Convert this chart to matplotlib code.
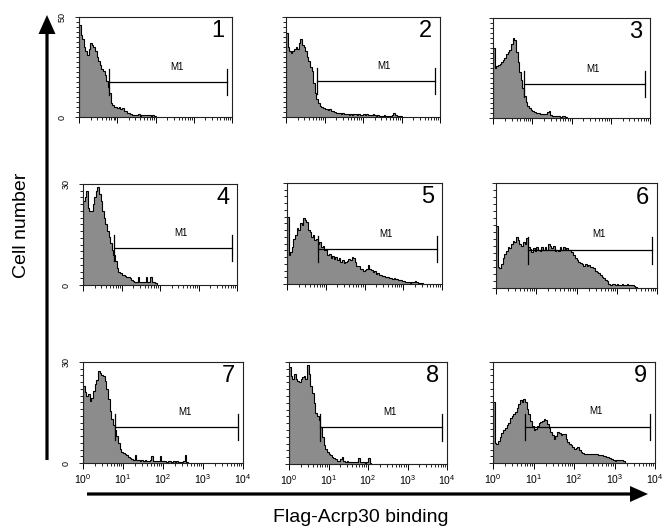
import numpy as np
import matplotlib
matplotlib.use('Agg')
from matplotlib import pyplot as plt
from matplotlib.ticker import LogLocator, MultipleLocator, NullFormatter, FixedLocator
from matplotlib.patches import FancyArrow

plt.rcParams['font.family'] = ['Liberation Sans', 'DejaVu Sans']
plt.rcParams['mathtext.fontset'] = 'custom'
plt.rcParams['mathtext.rm'] = 'Liberation Sans'

# histogram counts, 24 channels per decade starting at 10^0
bins_per_decade = 24
p1 = [46, 41, 39, 35, 33, 31, 34, 37, 36, 35, 33, 30, 28, 26, 24, 23, 21, 18, 15, 12,
      7, 6, 5, 5, 4.5, 5, 4, 4.5, 3, 3, 2, 2, 1.5, 1, 1.2, 0.8, 1, 1.3, 0.7, 1,
      1.2, 1, 0.8, 1.2, 1, 0.6, 1, 0.5]
p2 = [42, 35, 33, 32, 33, 34, 35, 34, 37, 39, 36, 35, 33, 30, 28, 25, 23, 17, 12, 9,
      7, 5.5, 5, 4.5, 4, 4.2, 3.5, 3.8, 3.2, 3, 2.6, 2.2, 2, 2.2, 1.7, 1.8, 1.5, 1.3,
      1.6, 1.2, 1.4, 1, 1.5, 1.3, 1.1, 1.4, 1, 1.2, 1.5, 1, 1.3, 0.9, 1.2, 1, 1.3,
      0.8, 0.6, 0.8, 0.5, 0.7, 0.6, 0.8, 0.5, 0.6, 0.7, 0.5, 1.0, 2.0, 1.0, 0.5, 0.4, 0.3]
p3 = [35, 25, 26, 26.5, 27, 28, 29, 30, 32, 33, 34, 37, 40, 39, 33, 28, 23, 19, 15, 11,
      8, 6, 5, 4, 3.3, 3, 2.7, 2.5, 2.3, 2.2, 2, 2, 2.2, 2.8, 3.3, 1.5, 1, 1.2, 0.8, 1,
      1.2, 0.7, 1, 0.8, 0.5]
p4 = [25, 26, 28, 23, 22, 22, 24, 26, 28, 29, 27, 25, 22, 20, 18, 16, 14.4, 12.5, 10.5, 9,
      7, 5, 4, 3.5, 3, 3, 2.8, 2.5, 2.5, 2, 1.5, 1.2, 1, 1, 2.5, 1, 1, 0.8, 1, 2.5,
      1, 0.8, 2.5, 1, 0.8, 0.5]
p5 = [20, 8.5, 9.5, 11, 13.5, 14.5, 16.5, 16, 18, 17.5, 19.5, 19, 18.5, 16, 15.5, 14, 14.5, 13, 13.5, 12,
      12.5, 11, 11.2, 10, 10.5, 8.5, 8.8, 7.8, 8.2, 7.5, 8, 7, 7.6, 6.6, 7, 6.2, 6.6, 6.8, 7.5, 7,
      8, 7.6, 6.5, 5.2, 5.3, 4.4, 4.6, 4, 4.2, 4.5, 5.5, 4.6, 4.2, 3.6, 3.8, 3, 3.3, 2.7, 2.6, 2.3,
      2.5, 2.1, 2.2, 1.8, 1.9, 1.6, 1.7, 1.4, 1.5, 1.2, 1.1, 1, 0.9, 0.7, 0.6, 0.5, 0.4, 0.6, 0.7, 0.8,
      0.5, 0.3, 0.3, 0.2]
p6 = [17.7, 6, 5.7, 7, 8.5, 9.8, 10.5, 11.8, 11.5, 12.7, 13.5, 13.2, 14.5, 13.8, 12.6, 12, 13.2, 12.5, 14.3, 11.6,
      11.2, 10.3, 11.4, 10.6, 11.8, 11, 10.5, 11.6, 10.8, 11.8, 11, 12.5, 12, 11.3, 12, 10.7, 11, 10.5, 11.6, 11,
      11.8, 11.2, 11.5, 10.8, 11, 10.4, 9.4, 8.6, 8, 7.4, 7.1, 6.8, 6.4, 6.8, 6.3, 6.6, 6.1, 5.9, 5.6, 5,
      4.7, 4.2, 3.8, 3.2, 2.8, 2.3, 1.9, 1.2, 0.9, 1.1, 1.2, 1, 1.1, 0.8, 1, 1.2, 0.9, 1, 1.1, 0.8,
      1, 0.9, 0.6, 0.4]
p7 = [22.8, 21, 19.8, 20.5, 18.3, 19.3, 21.5, 23.5, 24.8, 27.3, 26.6, 26, 25.7, 24.5, 22, 19, 15.5, 13, 11.2, 9.7,
      8, 6, 4.3, 3.2, 2.9, 2.6, 2.3, 1.8, 1.4, 1.1, 1, 2.5, 1, 0.8, 0.7, 0.9, 0.6, 0.8, 0.7, 0.6,
      0.8, 2, 0.7, 0.5, 0.7, 0.6, 2, 0.7, 0.5, 0.6, 0.4, 0.5, 0.6, 0.4, 0.5, 0.4, 0.5, 0.4, 0.3, 0.4,
      0.5, 2.3, 0.4]
p8 = [28.4, 26, 25, 26.5, 25, 24.5, 24, 25, 25.5, 26, 25, 29, 26.5, 23, 21, 18, 15, 14, 13, 10.8,
      8, 5.5, 4.5, 3.5, 3, 2.6, 2.2, 1.8, 1.4, 1, 1, 1.5, 2, 1, 0.7, 0.8, 0.6, 0.7, 0.5, 0.6,
      0.7, 0.5, 1.8, 0.6, 0.5, 0.6, 0.4, 0.5, 1.8, 0.4]
p9 = [18, 6, 5.5, 6.5, 7.8, 8.9, 9.8, 10.5, 11.3, 12, 13.5, 14.1, 14.5, 15.2, 16.2, 17.5, 18.7, 18.2, 19, 18,
      16, 14.5, 12.5, 11, 9.8, 10.2, 11, 11.8, 12.2, 12.5, 13.2, 12.8, 11.7, 10.3, 9.2, 8.2, 7.2, 8, 9.2, 8.8,
      8.2, 8.5, 8.7, 7.2, 6.2, 5.7, 5.2, 4.7, 4.2, 4.4, 4.7, 4, 3.2, 3, 2.8, 2.7, 2.8, 2.6, 2.7, 2.8,
      2.6, 2.7, 2.4, 2.3, 2.3, 2.2, 2, 1.8, 1.7, 1.4, 1.2, 0.9, 0.7, 0.8, 1, 1, 0.8, 0.5]
hists = [p1, p2, p3, p4, p5, p6, p7, p8, p9]
labels = ['1', '2', '3', '4', '5', '6', '7', '8', '9']
ymax = [50, 50, 50, 30, 30, 30, 30, 30, 30]

# M1 marker: start, end (fluorescence), level (cells)
m1_start = 6.2
m1_end = 7600
m1_level = [17.5, 17.8, 17.2, 10.9, 10.4, 10.8, 10.7, 10.8, 10.8]

# panel boxes in pixels: left, top, right, bottom
W, H = 663, 529
boxes = [(79, 17, 232, 117), (286, 17, 440, 117), (493, 18, 650, 118),
         (83, 184, 237, 285), (287, 183, 442, 284), (496, 183, 657, 288),
         (83, 362, 243, 463), (289, 362, 447, 464), (493, 362, 655, 463)]

fig = plt.figure(figsize=(W / 100, H / 100), dpi=100)

# big arrows + axis titles drawn in pixel space
bg = fig.add_axes([0, 0, 1, 1])
bg.set_xlim(0, W)
bg.set_ylim(H, 0)
bg.axis('off')
bg.add_patch(FancyArrow(47, 460, 0, -445, width=3.2, head_width=17, head_length=19,
                        length_includes_head=True, color='black', lw=0))
bg.add_patch(FancyArrow(87, 494, 561, 0, width=3.2, head_width=16, head_length=18,
                        length_includes_head=True, color='black', lw=0))
bg.text(22, 225, 'Cell number', rotation=90, ha='center', va='center', fontsize=14)
bg.text(361, 517, 'Flag-Acrp30 binding', ha='center', va='center', fontsize=14)

for i, vals in enumerate(hists):
    l, t, r, b = boxes[i]
    ax = fig.add_axes([l / W, 1 - b / H, (r - l) / W, (b - t) / H])
    edges = 10 ** (np.arange(len(vals) + 1) / bins_per_decade)
    ax.stairs(vals, edges, fill=True, color='#8c8c8c', lw=0)
    ax.stairs(vals, edges, color='black', lw=0.8)
    ax.set_xscale('log')
    ax.set_xlim(1, 1e4)
    ax.set_ylim(0, ymax[i])

    # M1 gate
    lv = m1_level[i]
    hh = ymax[i] * 0.13
    ax.plot([m1_start, m1_end], [lv, lv], color='black', lw=0.9)
    ax.plot([m1_start, m1_start], [lv - hh, lv + hh], color='black', lw=0.9)
    ax.plot([m1_end, m1_end], [lv - hh, lv + hh], color='black', lw=0.9)
    ax.text(10 ** 2.55, lv + ymax[i] * 0.15, 'M1', ha='center', va='center', fontsize=7)
    ax.text(0.95, 0.86, labels[i], transform=ax.transAxes, ha='right', va='center', fontsize=17)

    for s in ax.spines.values():
        s.set_linewidth(0.8)
        s.set_color('#222222')

    ax.xaxis.set_major_locator(LogLocator(base=10, numticks=10))
    ax.xaxis.set_minor_locator(LogLocator(base=10, subs=np.arange(2, 10), numticks=20))
    ax.xaxis.set_minor_formatter(NullFormatter())
    ax.tick_params(axis='x', which='major', length=4.5, width=0.7, pad=2)
    ax.tick_params(axis='x', which='minor', length=2.5, width=0.6)
    if i >= 6:
        ax.set_xticks([1, 10, 100, 1000, 10000])
        ax.set_xticklabels([r'$\mathregular{10^{%d}}$' % k for k in range(5)], fontsize=7.5)
    else:
        ax.set_xticklabels([])

    ax.set_yticks([0, ymax[i]])
    ax.set_yticklabels(['0', str(ymax[i])], rotation=90, va='center', fontsize=6.5)
    ax.yaxis.set_minor_locator(MultipleLocator(2.5 if ymax[i] == 50 else 2))
    ax.tick_params(axis='y', which='major', length=3, width=0.6, pad=6)
    ax.tick_params(axis='y', which='minor', length=2.5, width=0.6)
    if i % 3 != 0:
        ax.set_yticklabels([])

fig.savefig('out.png', dpi=100)
